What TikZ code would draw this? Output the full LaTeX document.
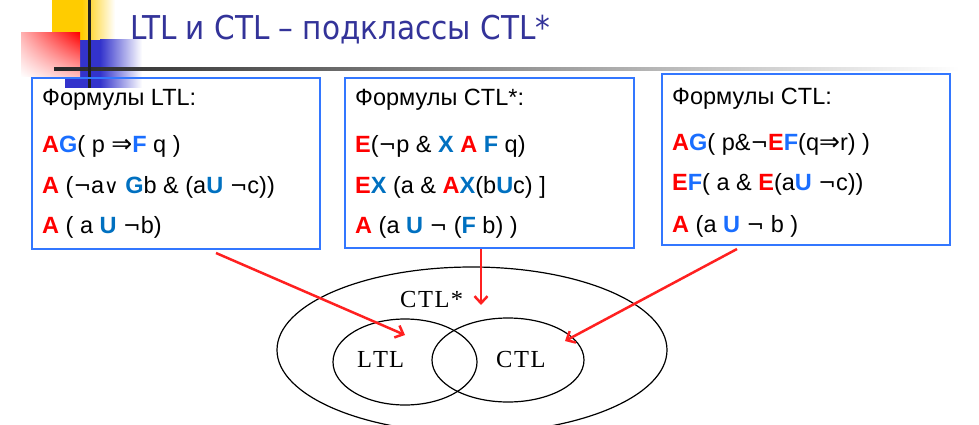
\documentclass[tikz,border=0pt]{standalone}
\usepackage{fontspec}
\setmainfont{Liberation Sans}
\newfontfamily\symf{DejaVu Sans}
\newfontfamily\titlef{DejaVu Sans Condensed}
\newfontfamily\serf{Liberation Serif}
\usetikzlibrary{arrows.meta,shapes.geometric,shadings}
\definecolor{tred}{RGB}{255,0,0}
\definecolor{bblue}{RGB}{26,110,255}
\definecolor{dblue}{RGB}{0,112,192}
\definecolor{boxblue}{RGB}{51,119,255}
\definecolor{arrred}{RGB}{255,32,32}
\definecolor{titleblue}{RGB}{51,51,153}
\definecolor{deco yellow}{RGB}{255,204,0}
\definecolor{deco blue}{RGB}{51,51,204}
\newcommand{\Rd}[1]{\textcolor{tred}{\textbf{#1}}}
\newcommand{\Bb}[1]{\textcolor{bblue}{\textbf{#1}}}
\newcommand{\Bd}[1]{\textcolor{dblue}{\textbf{#1}}}
\newcommand{\IMP}{{\symf\fontsize{25}{25}\selectfont ⇒}}
\newcommand{\OR}{{\symf\fontsize{20}{20}\selectfont ∨}}
\newcommand{\NOT}{{\symf\fontsize{21}{21}\selectfont ¬}}
\tikzset{
  fbox/.style={draw=boxblue, line width=2.5pt},
  fline/.style={anchor=base west, inner sep=0pt, font=\fontsize{23.5}{28}\selectfont},
  venn/.style={draw=black, line width=1.2pt, ellipse, inner sep=0pt},
  vlabel/.style={anchor=base west, inner sep=0pt, font=\serf\fontsize{24.5}{28}\selectfont},
  redarrow/.style={draw=arrred, line width=2.5pt, -{Straight Barb[length=7pt,width=13pt,line width=2.5pt]}},
}
\begin{document}
\begin{tikzpicture}[x=1pt,y=-1pt]
\useasboundingbox (0,0) rectangle (979,425);
% decoration
\fill[deco yellow] (52,0) rectangle (82,40);
\shade[left color=deco yellow, right color=white] (82,0) rectangle (115,40);
\fill[deco blue] (65,40) rectangle (100,88);
\shade[left color=deco blue, right color=white] (100,40) rectangle (142,88);
\shade[upper right=red, upper left=red!30, lower right=red!25, lower left=white] (21,33) rectangle (80,77);
\shade[left color=black!85, right color=white] (54,67.5) rectangle (960,70.5);
\fill[black!88] (87.5,0) rectangle (90.5,88);
% title
\node[anchor=base west, inner sep=0pt, text=titleblue, font=\titlef\fontsize{32.8}{36}\selectfont] (title) at (130,40) {LTL и CTL – подклассы CTL*};
% boxes
\draw[fbox] (32,78) rectangle (320,249);
\draw[fbox] (345,78) rectangle (634,248);
\draw[fbox] (662,74) rectangle (950,245);
\node[fline] (a1) at (42,106) {Формулы LTL:};
\node[fline] (a2) at (42,152) {\Rd{A}\Bb{G}( p \IMP\Bb{F} q )};
\node[fline] (a3) at (42,193) {\Rd{A} (\NOT a\OR\ \Bd{G}b \& (a\Bd{U} \NOT c))};
\node[fline] (a4) at (42,233) {\Rd{A} ( a \Bd{U} \NOT b)};
\node[fline] (b1) at (355,106) {Формулы CTL*:};
\node[fline] (b2) at (355,152) {\Rd{E}(\NOT p \& \Bd{X} \Rd{A} \Bd{F} q)};
\node[fline] (b3) at (355,193) {\Rd{E}\Bd{X} (a \& \Rd{A}\Bd{X}(b\Bd{U}c) ]};
\node[fline] (b4) at (355,233) {\Rd{A} (a \Bd{U} \NOT\ (\Bd{F} b) )};
\node[fline] (c1) at (672,105) {Формулы CTL:};
\node[fline] (c2) at (672,150) {\Rd{A}\Bb{G}( p\&\NOT\Rd{E}\Bb{F}(q\IMP r) )};
\node[fline] (c3) at (672,190) {\Rd{E}\Bb{F}( a \& \Rd{E}(a\Bb{U} \NOT c))};
\node[fline] (c4) at (672,232) {\Rd{A} (a \Bb{U} \NOT\ b )};
% venn
\node[venn, minimum width=390pt, minimum height=166pt] (star) at (472,350) {};
\node[venn, minimum width=144pt, minimum height=86pt] (ltl) at (405,362) {};
\node[venn, minimum width=152pt, minimum height=84pt] (ctl) at (508,360) {};
\node[vlabel] (lstar) at (400,307) {C\kern1.5pt T\kern1.5pt L\kern1.5pt *};
\node[vlabel] (lltl) at (357,367) {L\kern1pt T\kern1pt L};
\node[vlabel] (lctl) at (496,367) {C\kern1.5pt T\kern1.5pt L};
% arrows
\coordinate (s1) at (216,253);
\coordinate (e1) at (405,335);
\coordinate (s2) at (481,249);
\coordinate (e2) at (481,305);
\coordinate (s3) at (737,249);
\coordinate (e3) at (565,341);
\draw[redarrow] (s1) -- (e1);
\draw[redarrow] (s2) -- (e2);
\draw[redarrow] (s3) -- (e3);
\end{tikzpicture}
\end{document}
